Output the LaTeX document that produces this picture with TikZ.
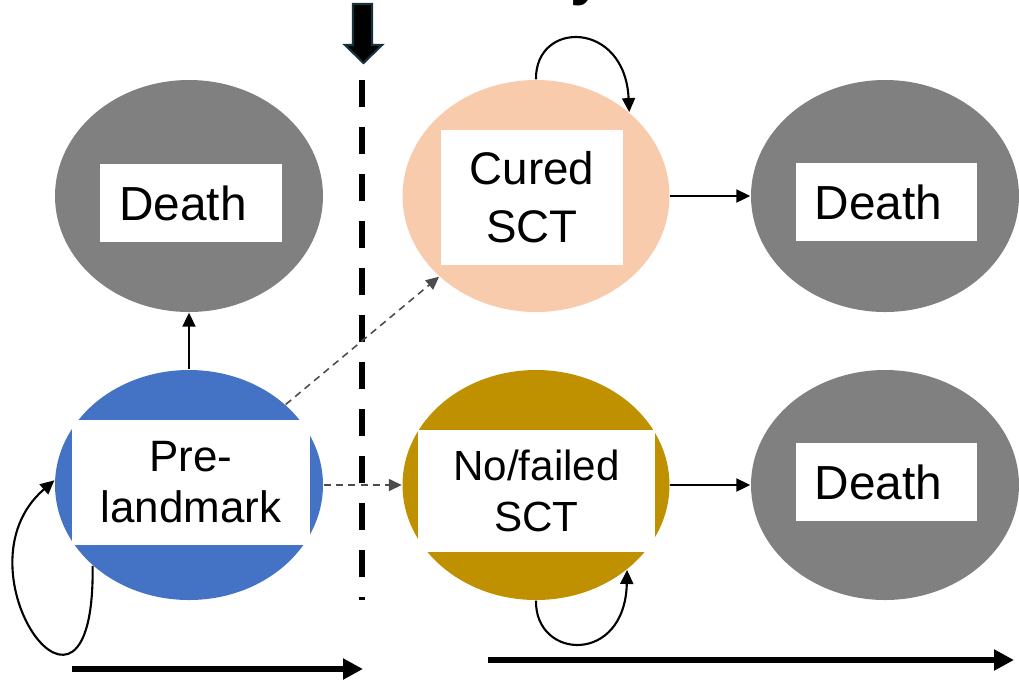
\documentclass[tikz,border=0pt]{standalone}
\usepackage{fontspec}
\setmainfont{Liberation Sans}
\usetikzlibrary{shapes.geometric,arrows.meta}

\definecolor{preblue}{HTML}{4472C4}
\definecolor{curedpeach}{HTML}{F8CBAD}
\definecolor{failedgold}{HTML}{BF9000}
\definecolor{deathgray}{HTML}{808080}
\definecolor{markteal}{HTML}{17323C}

\tikzset{
  stateoval/.style={ellipse, minimum width=2.68cm, minimum height=2.32cm, inner sep=0pt},
  labelbox/.style={rectangle, fill=white, inner sep=0pt, align=center},
  deathbox/.style={labelbox, minimum width=1.81cm, minimum height=0.78cm, font=\fontsize{13.6}{16}\selectfont},
  trans/.style={-{Triangle[length=1.4mm,width=1.3mm]}, line width=0.6pt},
  landmarktrans/.style={-{Triangle[length=1.3mm,width=1.2mm]}, line width=0.45pt, dash pattern=on 2pt off 1.5pt, black!70},
  timeaxis/.style={-{Triangle[length=2mm,width=2mm]}, line width=1.6pt}
}

\begin{document}
\begin{tikzpicture}
\useasboundingbox (0,0) rectangle (10.19,6.80);

% Title remnant at the top edge
\node[anchor=base west, inner sep=0pt, font=\fontsize{17}{20}\selectfont\bfseries] (titletail) at (5.70,6.866) {y};

% Landmark time: marker arrow and dashed line
\fill[black, draw=markteal, line width=0.6pt] (3.53,6.76) -- (3.72,6.76) -- (3.72,6.35) -- (3.82,6.35)
  -- (3.635,6.17) -- (3.45,6.35) -- (3.53,6.35) -- cycle;
\draw[line width=1.7pt, dash pattern=on 0.27cm off 0.2cm] (3.62,6.00) -- (3.62,0.80);

% States
\node[stateoval, fill=deathgray] (deathpre) at (1.89,4.84) {};
\node[stateoval, fill=preblue, minimum height=2.30cm] (pre) at (1.89,1.95) {};
\node[stateoval, fill=curedpeach, minimum width=2.67cm] (cured) at (5.36,4.84) {};
\node[stateoval, fill=failedgold, minimum width=2.67cm, minimum height=2.30cm] (failed) at (5.36,1.95) {};
\node[stateoval, fill=deathgray] (deathcured) at (8.85,4.84) {};
\node[stateoval, fill=deathgray, minimum height=2.30cm] (deathfailed) at (8.85,1.95) {};

% Labels
\node[deathbox, minimum width=1.82cm] (deathprelbl) at (1.91,4.77) {Death\hspace{0.16cm}};
\node[labelbox, minimum width=2.38cm, minimum height=1.25cm, font=\fontsize{12.5}{14.5}\selectfont] (prelbl) at (1.91,1.975) {Pre-\\landmark};
\node[labelbox, minimum width=1.82cm, minimum height=1.35cm, font=\fontsize{13}{16.5}\selectfont] (curedlbl) at (5.32,4.825) {Cured\\SCT};
\node[labelbox, minimum width=2.37cm, minimum height=1.22cm, font=\fontsize{12}{14.5}\selectfont] (failedlbl) at (5.365,1.89) {No/failed\\SCT};
\node[deathbox] (deathcuredlbl) at (8.865,4.78) {Death\hspace{0.16cm}};
\node[deathbox] (deathfailedlbl) at (8.865,1.98) {Death\hspace{0.16cm}};

% Transitions
\draw[trans] (pre) -- (deathpre);
\draw[trans] (cured) -- (deathcured);
\draw[trans] (failed) -- (deathfailed);
\draw[landmarktrans] (pre) -- (cured);
\draw[landmarktrans] (pre) -- (failed);

% Staying in the same state
\draw[trans] (pre.220) .. controls (0.95,-0.9) and (-0.5,1.1) .. (pre.178);
\draw[trans] (cured.north) .. controls (5.35,6.6) and (6.25,6.6) .. (cured.42);
\draw[trans] (failed.south) .. controls (5.35,0.2) and (6.25,0.15) .. (failed.-43);

% Time axes
\coordinate (prestart) at (0.72,0.11);
\coordinate (preend) at (3.63,0.11);
\coordinate (poststart) at (4.88,0.20);
\coordinate (postend) at (10.14,0.20);
\draw[timeaxis] (prestart) -- (preend);
\draw[timeaxis] (poststart) -- (postend);

\end{tikzpicture}
\end{document}
